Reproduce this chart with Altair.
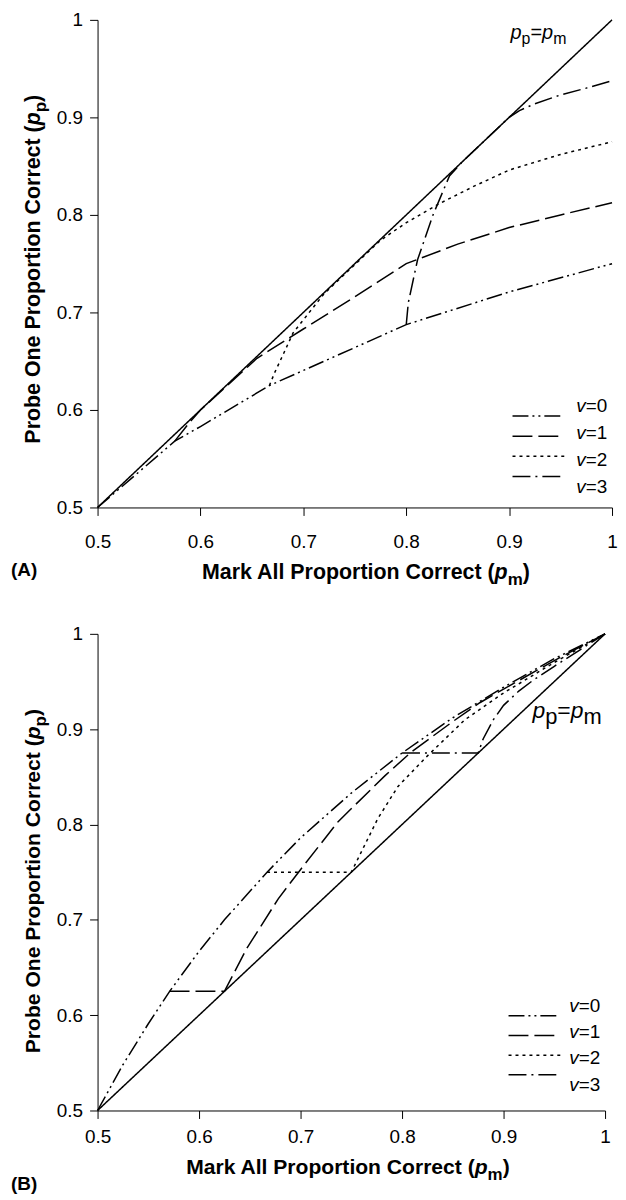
import altair as alt
import pandas as pd

FONT = "Liberation Sans"
TICKS = [0.5, 0.6, 0.7, 0.8, 0.9, 1.0]
SERIES = ["diag", "v=0", "v=1", "v=2", "v=3"]
DASHES = [[1, 0], [16, 4, 2, 4, 2, 4], [20, 6], [3, 4], [18, 5, 2, 5]]
LEGEND_NAMES = ["v=0", "v=1", "v=2", "v=3"]
LEGEND_NUMS = ["=0", "=1", "=2", "=3"]

# ---------------- Panel A values (pm = mark-all, pp = probe-one) ----------------
# v=1..v=3 are listed from the point where they leave the v=0 curve
A_DIAG_PM = [0.5, 1.0]
A_DIAG_PP = [0.5, 1.0]
A_V0_PM = [0.5, 0.575, 0.6, 0.667, 0.733, 0.8, 0.9, 1.0]
A_V0_PP = [0.5, 0.568, 0.583, 0.625, 0.656, 0.6875, 0.721, 0.75]
A_V1_PM = [0.575, 0.59, 0.6, 0.655, 0.7, 0.75, 0.8, 0.85, 0.9, 0.95, 1.0]
A_V1_PP = [0.568, 0.588, 0.6, 0.653, 0.683, 0.716, 0.75, 0.77, 0.787, 0.8, 0.8125]
A_V2_PM = [0.667, 0.672, 0.68, 0.69, 0.705, 0.72, 0.775, 0.8, 0.833, 0.867, 0.9, 0.95, 1.0]
A_V2_PP = [0.625, 0.638, 0.656, 0.679, 0.699, 0.719, 0.774, 0.792, 0.812, 0.83, 0.846, 0.862, 0.875]
A_V3_PM = [0.8, 0.802, 0.811, 0.826, 0.842, 0.855, 0.9, 0.91, 0.925, 0.95, 0.975, 1.0]
A_V3_PP = [0.6875, 0.71, 0.754, 0.8, 0.84, 0.855, 0.9, 0.907, 0.914, 0.923, 0.93, 0.9375]

# ---------------- Panel B values ----------------
B_DIAG_PM = [0.5, 1.0]
B_DIAG_PP = [0.5, 1.0]
B_V0_PM = [0.5, 0.525, 0.55, 0.571, 0.6, 0.625, 0.667, 0.7, 0.75, 0.8, 0.85, 0.9, 0.95, 1.0]
B_V0_PP = [0.5, 0.548, 0.591, 0.625, 0.667, 0.7, 0.75, 0.786, 0.833, 0.875, 0.912, 0.944, 0.974, 1.0]
B_V1_PM = [0.571, 0.625, 0.647, 0.678, 0.698, 0.737, 0.783, 0.809, 0.85, 0.877, 0.9, 0.95, 1.0]
B_V1_PP = [0.625, 0.625, 0.67, 0.722, 0.75, 0.803, 0.851, 0.876, 0.908, 0.928, 0.942, 0.972, 1.0]
B_V2_PM = [0.667, 0.75, 0.776, 0.796, 0.825, 0.862, 0.9, 0.95, 1.0]
B_V2_PP = [0.75, 0.75, 0.806, 0.84, 0.872, 0.91, 0.938, 0.97, 1.0]
B_V3_PM = [0.8, 0.875, 0.88, 0.89, 0.9, 0.915, 0.93, 0.95, 0.975, 1.0]
B_V3_PP = [0.875, 0.875, 0.89, 0.91, 0.925, 0.94, 0.952, 0.966, 0.983, 1.0]

X_TITLE_MAIN = "Mark All Proportion Correct ("
Y_TITLE_MAIN = "Probe One Proportion Correct ("


def make_df(series_list):
    rows = []
    for name, pm, pp in series_list:
        for i, (x, y) in enumerate(zip(pm, pp)):
            rows.append({"series": name, "pm": x, "pp": y, "order": i})
    return pd.DataFrame(rows)


def dash_enc():
    return alt.StrokeDash("series:N", scale=alt.Scale(domain=SERIES, range=DASHES), legend=None)


def lines_layer(df, label_pad):
    xa = alt.Axis(values=TICKS, format=".1~f", title=None, grid=False, domainColor="black",
                  tickColor="black", tickSize=8, labelFontSize=19, labelFont=FONT,
                  labelColor="black", labelPadding=label_pad, labelFlush=False, labelOverlap=False)
    ya = alt.Axis(values=TICKS, format=".1~f", title=None, grid=False, domainColor="black",
                  tickColor="black", tickSize=8, labelFontSize=19, labelFont=FONT,
                  labelColor="black", labelPadding=7, labelOverlap=False)
    return alt.Chart(df).mark_line(color="black", strokeWidth=1.5).encode(
        x=alt.X("pm:Q", scale=alt.Scale(domain=[0.5, 1.0], nice=False, zero=False), axis=xa),
        y=alt.Y("pp:Q", scale=alt.Scale(domain=[0.5, 1.0], nice=False, zero=False), axis=ya),
        detail="series:N",
        strokeDash=dash_enc(),
        order="order:Q",
    )


def txt(s, x, y, size, weight="normal", style="normal", angle=0, align="left"):
    props = dict(text=s, font=FONT, fontSize=size, fontWeight=weight, fontStyle=style,
                 align=align, baseline="alphabetic", color="black")
    if angle:
        props["angle"] = angle
    return alt.Chart(pd.DataFrame({"k": [0]})).mark_text(**props).encode(
        x=alt.value(x), y=alt.value(y))


def legend_layers(x1, x2, xt, y_top, y_bot, size):
    leg = pd.DataFrame({"series": LEGEND_NAMES, "num": LEGEND_NUMS, "row": [0, 1, 2, 3]})
    yenc = alt.Y("row:O", scale=alt.Scale(range=[y_top, y_bot], padding=0), axis=None)
    rule = alt.Chart(leg).mark_rule(color="black", strokeWidth=1.5).encode(
        x=alt.value(x1), x2=alt.value(x2), y=yenc, strokeDash=dash_enc())
    vt = alt.Chart(leg).mark_text(text="v", font=FONT, fontSize=size, fontStyle="italic",
                                  align="left", baseline="middle", color="black").encode(
        x=alt.value(xt), y=yenc)
    nt = alt.Chart(leg).mark_text(font=FONT, fontSize=size, align="left", baseline="middle",
                                  color="black").encode(
        x=alt.value(xt + 0.5 * size), y=yenc, text="num:N")
    return [rule, vt, nt]


def title_layers(xt_anchor, xt_y, xt_size, yt_anchor, yt_x, tag, tag_y):
    p_w = 0.611 * xt_size
    sub = 17
    layers = [
        txt(X_TITLE_MAIN, xt_anchor, xt_y, xt_size, weight="bold", align="right"),
        txt("p", xt_anchor, xt_y, xt_size, weight="bold", style="italic"),
        txt("m", xt_anchor + p_w, xt_y + 6, sub, weight="bold"),
        txt(")", xt_anchor + p_w + 0.889 * sub, xt_y, xt_size, weight="bold"),
        txt(Y_TITLE_MAIN, yt_x, yt_anchor, xt_size, weight="bold", angle=270, align="right"),
        txt("p", yt_x, yt_anchor, xt_size, weight="bold", style="italic", angle=270),
        txt("p", yt_x + 6, yt_anchor - p_w, sub, weight="bold", angle=270),
        txt(")", yt_x, yt_anchor - p_w - 0.611 * sub, xt_size, weight="bold", angle=270),
        txt(tag, -87, tag_y, 19, weight="bold"),
    ]
    return layers


def eq_label(x, y, big, small, drop):
    w_p = 0.556 * big
    w_sp = 0.556 * small
    w_eq = 0.584 * big
    return [
        txt("p", x, y, big, style="italic"),
        txt("p", x + w_p, y + drop, small),
        txt("=", x + w_p + w_sp, y, big),
        txt("p", x + w_p + w_sp + w_eq, y, big, style="italic"),
        txt("m", x + 2 * w_p + w_sp + w_eq, y + drop, small),
    ]


dfA = make_df([
    ("diag", A_DIAG_PM, A_DIAG_PP), ("v=0", A_V0_PM, A_V0_PP), ("v=1", A_V1_PM, A_V1_PP),
    ("v=2", A_V2_PM, A_V2_PP), ("v=3", A_V3_PM, A_V3_PP)])
dfB = make_df([
    ("diag", B_DIAG_PM, B_DIAG_PP), ("v=0", B_V0_PM, B_V0_PP), ("v=1", B_V1_PM, B_V1_PP),
    ("v=2", B_V2_PM, B_V2_PP), ("v=3", B_V3_PM, B_V3_PP)])

panelA = alt.layer(
    lines_layer(dfA, 17),
    *legend_layers(417, 469, 481, 388, 469, 19),
    *eq_label(415, 19.5, 20, 16, 5),
    *title_layers(399, 562, 21.5, 106, -58, "(A)", 559),
).resolve_scale(y="independent").properties(width=517, height=490)

panelB = alt.layer(
    lines_layer(dfB, 9),
    *legend_layers(413, 465, 474, 374, 453, 19),
    *eq_label(437, 85, 23, 22, 6),
    *title_layers(379, 543, 21.2, 106, -58, "(B)", 559),
).resolve_scale(y="independent").properties(width=510, height=479)

chart = alt.vconcat(panelA, panelB, spacing=37).configure_view(strokeWidth=0).properties(
    padding={"left": 3, "top": 0, "right": 0, "bottom": 0})

chart.save("out.html", embed_options={"renderer": "svg", "actions": False})
